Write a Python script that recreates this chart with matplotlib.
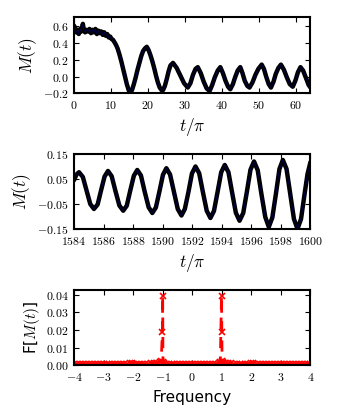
import numpy as np
import matplotlib
matplotlib.use('Agg')
import matplotlib.pyplot as plt
from matplotlib.ticker import FuncFormatter, MultipleLocator

plt.rcParams['mathtext.fontset'] = 'cm'
plt.rcParams['font.family'] = ['DejaVu Sans']

# top panel: M(t) over the first 64 pi
t_early = [0, 0.3, 0.6, 1.0, 1.3, 1.7, 2.0, 2.4, 2.7, 3.0, 3.4, 3.8, 4.2, 4.6, 5.0,
           5.4, 5.8, 6.2, 6.6, 7.0, 7.4, 7.8, 8.2, 8.6, 9.0, 9.4, 9.8, 10.2, 10.6,
           11.0, 11.4, 11.8, 12.3, 12.8, 13.3, 13.8, 14.3, 14.8, 15.2, 15.7, 16.2,
           16.7, 17.2, 17.7, 18.2, 18.7, 19.2, 19.7, 20.2, 20.7, 21.2, 21.7, 22.2,
           22.7, 23.2, 23.7, 24.1, 24.6, 25.1, 25.6, 26.1, 26.8, 27.8, 28.8, 29.8,
           30.8, 31.5, 32.2, 32.9, 33.5, 34.3, 35.1, 35.9, 36.7, 37.4, 38.1, 38.9,
           39.6, 40.3, 41.0, 41.7, 42.3, 43.0, 43.6, 44.3, 45.0, 45.6, 46.2, 46.9,
           47.5, 48.3, 49.1, 49.9, 50.8, 51.4, 52.0, 52.7, 53.3, 54.0, 54.6, 55.3,
           56.0, 56.8, 57.6, 58.4, 59.2, 59.9, 60.6, 61.3, 62.0, 62.8, 63.5, 64.0]
m_early = [0.60, 0.57, 0.52, 0.55, 0.50, 0.56, 0.53, 0.62, 0.54, 0.52, 0.55, 0.53,
           0.56, 0.51, 0.55, 0.52, 0.56, 0.50, 0.54, 0.51, 0.53, 0.49, 0.52, 0.48,
           0.50, 0.46, 0.47, 0.44, 0.43, 0.40, 0.37, 0.33, 0.26, 0.18, 0.09, 0.00,
           -0.09, -0.16, -0.19, -0.16, -0.09, -0.01, 0.08, 0.16, 0.24, 0.30, 0.33,
           0.35, 0.31, 0.25, 0.18, 0.10, 0.01, -0.07, -0.13, -0.16, -0.16, -0.11,
           -0.03, 0.06, 0.13, 0.16, 0.10, 0.01, -0.08, -0.13, -0.08, 0.02, 0.09,
           0.11, 0.04, -0.06, -0.14, -0.17, -0.10, -0.01, 0.07, 0.11, 0.04, -0.05,
           -0.12, -0.15, -0.09, -0.01, 0.07, 0.11, 0.04, -0.05, -0.11, -0.13, -0.07,
           0.02, 0.09, 0.14, 0.09, 0.00, -0.09, -0.13, -0.06, 0.03, 0.10, 0.14,
           0.08, -0.01, -0.09, -0.12, -0.05, 0.05, 0.11, 0.07, -0.02, -0.10, -0.13]

# middle panel: late times
t_late = [1584.0, 1584.17, 1584.34, 1584.6, 1584.85, 1585.1, 1585.35, 1585.6, 1585.83,
          1586.07, 1586.3, 1586.55, 1586.8, 1587.07, 1587.33, 1587.57, 1587.8, 1588.05,
          1588.28, 1588.53, 1588.78, 1589.05, 1589.3, 1589.54, 1589.78, 1590.02, 1590.25,
          1590.5, 1590.76, 1591.02, 1591.27, 1591.5, 1591.75, 1591.98, 1592.22, 1592.47,
          1592.72, 1592.98, 1593.23, 1593.47, 1593.72, 1593.96, 1594.2, 1594.45, 1594.7,
          1594.95, 1595.2, 1595.45, 1595.7, 1595.94, 1596.18, 1596.43, 1596.68, 1596.94,
          1597.18, 1597.42, 1597.66, 1597.9, 1598.13, 1598.38, 1598.63, 1598.88, 1599.12,
          1599.36, 1599.6, 1599.8, 1600.0]
m_late = [0.045, 0.068, 0.077, 0.058, 0.004, -0.050, -0.070, -0.052, 0.004,
          0.060, 0.082, 0.061, 0.003, -0.056, -0.077, -0.057, 0.002, 0.063,
          0.086, 0.064, 0.000, -0.063, -0.086, -0.064, 0.000, 0.067, 0.093,
          0.068, -0.001, -0.070, -0.096, -0.070, 0.000, 0.072, 0.100, 0.073,
          -0.002, -0.077, -0.106, -0.078, 0.000, 0.077, 0.106, 0.077, -0.005,
          -0.085, -0.117, -0.086, 0.000, 0.087, 0.120, 0.085, -0.010, -0.102,
          -0.142, -0.104, -0.010, 0.090, 0.126, 0.090, -0.010, -0.110, -0.150,
          -0.110, -0.010, 0.070, 0.118]

# bottom panel: spectrum
freq = [-4.0, -3.9, -3.8, -3.7, -3.6, -3.5, -3.4, -3.3, -3.2, -3.1, -3.0, -2.9, -2.8,
        -2.7, -2.6, -2.5, -2.4, -2.3, -2.2, -2.1, -2.05, -2.0, -1.9, -1.8, -1.7, -1.6,
        -1.5, -1.4, -1.3, -1.2, -1.1, -1.05, -1.01, -1.0, -0.99, -0.95, -0.9, -0.8,
        -0.7, -0.6, -0.5, -0.4, -0.3, -0.2, -0.1, 0.0, 0.1, 0.2, 0.3, 0.4, 0.5, 0.6,
        0.7, 0.8, 0.9, 0.95, 0.99, 1.0, 1.01, 1.05, 1.1, 1.2, 1.3, 1.4, 1.5, 1.6, 1.7,
        1.8, 1.9, 2.0, 2.05, 2.1, 2.2, 2.3, 2.4, 2.5, 2.6, 2.7, 2.8, 2.9, 3.0, 3.1,
        3.2, 3.3, 3.4, 3.5, 3.6, 3.7, 3.8, 3.9, 4.0]
amp = [0.0007, 0.0007, 0.0007, 0.0007, 0.0007, 0.0007, 0.0007, 0.0007, 0.0007, 0.0007,
       0.0007, 0.0007, 0.0007, 0.0008, 0.0008, 0.0008, 0.0008, 0.0009, 0.0010, 0.0012,
       0.0014, 0.0011, 0.0009, 0.0009, 0.0010, 0.0010, 0.0011, 0.0012, 0.0013, 0.0016,
       0.0020, 0.0025, 0.0190, 0.0395, 0.0021, 0.0013, 0.0010, 0.0008, 0.0007, 0.0007,
       0.0007, 0.0007, 0.0007, 0.0007, 0.0007, 0.0007, 0.0007, 0.0007, 0.0007, 0.0007,
       0.0007, 0.0007, 0.0008, 0.0010, 0.0013, 0.0021, 0.0395, 0.0190, 0.0025, 0.0020,
       0.0016, 0.0013, 0.0012, 0.0011, 0.0010, 0.0010, 0.0009, 0.0009, 0.0011, 0.0014,
       0.0012, 0.0010, 0.0009, 0.0008, 0.0008, 0.0008, 0.0008, 0.0007, 0.0007, 0.0007,
       0.0007, 0.0007, 0.0007, 0.0007, 0.0007, 0.0007, 0.0007, 0.0007, 0.0007, 0.0007,
       0.0007]


def fmt(spec):
    return FuncFormatter(lambda v, p: '$' + (spec % v) + '$')


def style(ax):
    for s in ax.spines.values():
        s.set_linewidth(1.5)
    ax.tick_params(direction='in', top=True, right=True, length=3.5, width=0.8,
                   labelsize=8.5, pad=4)


fig = plt.figure(figsize=(3.4, 4.2), dpi=100)
ax1 = fig.add_axes([0.2176, 0.7774, 0.6956, 0.182])
ax2 = fig.add_axes([0.2176, 0.4548, 0.6956, 0.1786])
ax3 = fig.add_axes([0.2176, 0.1298, 0.6956, 0.18])

ax1.plot(t_early, m_early, color='k', lw=3.2, solid_capstyle='round')
ax1.plot(t_early, m_early, color='#0000b0', lw=0.4, alpha=0.6)
ax1.set_xlim(0, 64)
ax1.set_ylim(-0.2, 0.7)
ax1.xaxis.set_major_locator(MultipleLocator(10))
ax1.yaxis.set_major_locator(MultipleLocator(0.2))
ax1.xaxis.set_major_formatter(fmt('%d'))
ax1.yaxis.set_major_formatter(fmt('%.1f'))
ax1.set_xlabel(r'$t/\pi$', fontsize=12.5, labelpad=3)
ax1.set_ylabel(r'$M(t)$', fontsize=12.5, labelpad=3)
style(ax1)

ax2.plot(t_late, m_late, color='k', lw=3.2, solid_capstyle='round')
ax2.plot(t_late, m_late, color='#0000b0', lw=0.4, alpha=0.6)
ax2.set_xlim(1584, 1600)
ax2.set_ylim(-0.15, 0.15)
ax2.set_xticks([1584, 1586, 1588, 1590, 1592, 1594, 1596, 1598, 1600])
ax2.set_yticks([-0.15, -0.05, 0.05, 0.15])
ax2.xaxis.set_major_formatter(fmt('%d'))
ax2.yaxis.set_major_formatter(fmt('%.2f'))
ax2.set_xlabel(r'$t/\pi$', fontsize=12.5, labelpad=3)
ax2.set_ylabel(r'$M(t)$', fontsize=12.5, labelpad=3)
style(ax2)

ax3.plot(freq, amp, color='red', ls='--', lw=2, marker='x', ms=5, mew=1.2,
         dashes=(4, 3))
ax3.set_xlim(-4, 4)
ax3.set_ylim(0, 0.0428)
ax3.xaxis.set_major_locator(MultipleLocator(1))
ax3.yaxis.set_major_locator(MultipleLocator(0.01))
ax3.xaxis.set_major_formatter(fmt('%d'))
ax3.yaxis.set_major_formatter(fmt('%.2f'))
ax3.set_xlabel('Frequency', fontsize=11, labelpad=4)
ax3.set_ylabel(r'F[$M(t)$]', fontsize=11, labelpad=3)
style(ax3)

fig.savefig('out.png', dpi=100)
